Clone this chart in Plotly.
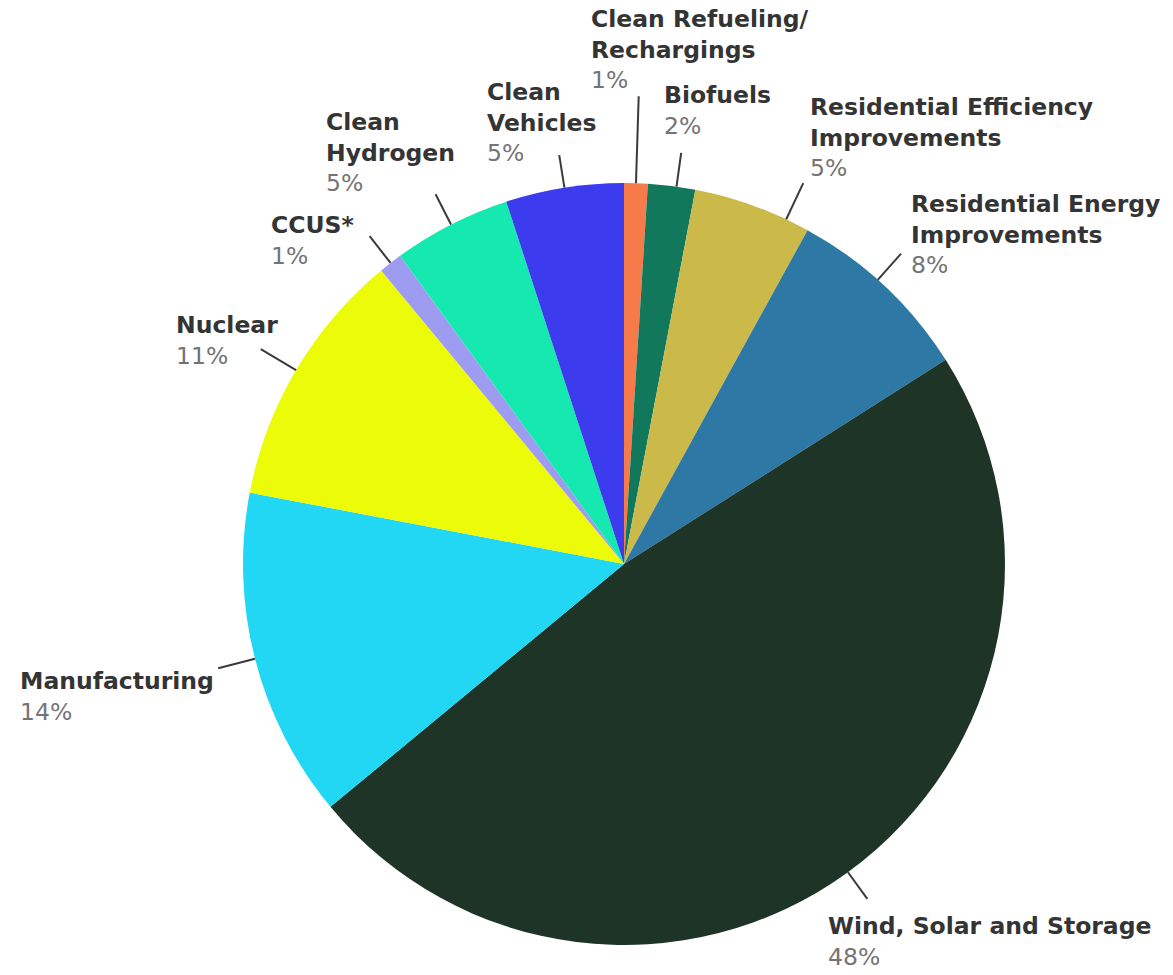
import math
import plotly.graph_objects as go

# Shares of investment by category (percent), clockwise from 12 o'clock
names = [
    "Clean Refueling/ Rechargings",
    "Biofuels",
    "Residential Efficiency Improvements",
    "Residential Energy Improvements",
    "Wind, Solar and Storage",
    "Manufacturing",
    "Nuclear",
    "CCUS*",
    "Clean Hydrogen",
    "Clean Vehicles",
]
label_lines = [
    ["Clean Refueling/", "Rechargings"],
    ["Biofuels"],
    ["Residential Efficiency", "Improvements"],
    ["Residential Energy", "Improvements"],
    ["Wind, Solar and Storage"],
    ["Manufacturing"],
    ["Nuclear"],
    ["CCUS*"],
    ["Clean", "Hydrogen"],
    ["Clean", "Vehicles"],
]
shares = [1, 2, 5, 8, 48, 14, 11, 1, 5, 5]
colors = [
    "#F77A4A",  # clean refueling
    "#12785C",  # biofuels
    "#CBB94A",  # residential efficiency
    "#2E78A5",  # residential energy
    "#1E3427",  # wind, solar and storage
    "#22D7F3",  # manufacturing
    "#ECFC08",  # nuclear
    "#9D9CF0",  # CCUS
    "#15E9AF",  # clean hydrogen
    "#3C3BEE",  # clean vehicles
]

# ---- layout (pixels) ----
W, H = 1173, 975
CX, CY, R = 624, 564, 381
FONT = "DejaVu Sans"
FS = 23.5
LABEL_COLOR = "#343434"
PCT_COLOR = "#747474"

# label block: left edge and cap-top of the first line
label_pos = [
    (592, 12), (665, 88), (811, 100), (912, 197), (829, 919),
    (21, 674), (177, 318), (272, 218), (327, 115), (488, 85),
]
# leader line: position inside the slice (0..1) and length outward
leader = [
    (0.5, 87), (0.6, 34), (0.8, 40), (0.45, 35), (0.5, 33),
    (0.5, 38), (0.5, 41), (0.5, 34), (0.5, 34), (0.5, 33),
]


def px(x):
    return x / W


def py(y):
    return 1 - y / H


fig = go.Figure(
    go.Pie(
        labels=names,
        values=shares,
        marker=dict(colors=colors, line=dict(width=0)),
        sort=False,
        direction="clockwise",
        rotation=0,
        textinfo="none",
        hoverinfo="label+percent",
        showlegend=False,
        domain=dict(x=[px(CX - R), px(CX + R)], y=[py(CY + R), py(CY - R)]),
    )
)

total = sum(shares)
start = 0.0
shapes = []
annotations = []
for i, v in enumerate(shares):
    frac, length = leader[i]
    ang = 2 * math.pi * (start + v * frac) / total
    start += v
    sx, sy = math.sin(ang), -math.cos(ang)
    x0, y0 = CX + R * sx, CY + R * sy
    x1, y1 = CX + (R + length) * sx, CY + (R + length) * sy
    shapes.append(dict(
        type="line", xref="paper", yref="paper",
        x0=px(x0), y0=py(y0), x1=px(x1), y1=py(y1),
        line=dict(color="#3a3a3a", width=2),
    ))
    pct = round(100 * v / total)
    text = "<br>".join(f"<b>{t}</b>" for t in label_lines[i])
    text += f"<br><span style='color:{PCT_COLOR}'>{pct}%</span>"
    lx, ly = label_pos[i]
    annotations.append(dict(
        text=text, xref="paper", yref="paper",
        x=px(lx - 3), y=py(ly - 9),
        xanchor="left", yanchor="top", align="left",
        showarrow=False,
        font=dict(family=FONT, size=FS, color=LABEL_COLOR),
    ))

fig.update_layout(
    width=W, height=H,
    margin=dict(l=0, r=0, t=0, b=0),
    paper_bgcolor="white",
    plot_bgcolor="white",
    shapes=shapes,
    annotations=annotations,
)

fig.write_html("out.html")
